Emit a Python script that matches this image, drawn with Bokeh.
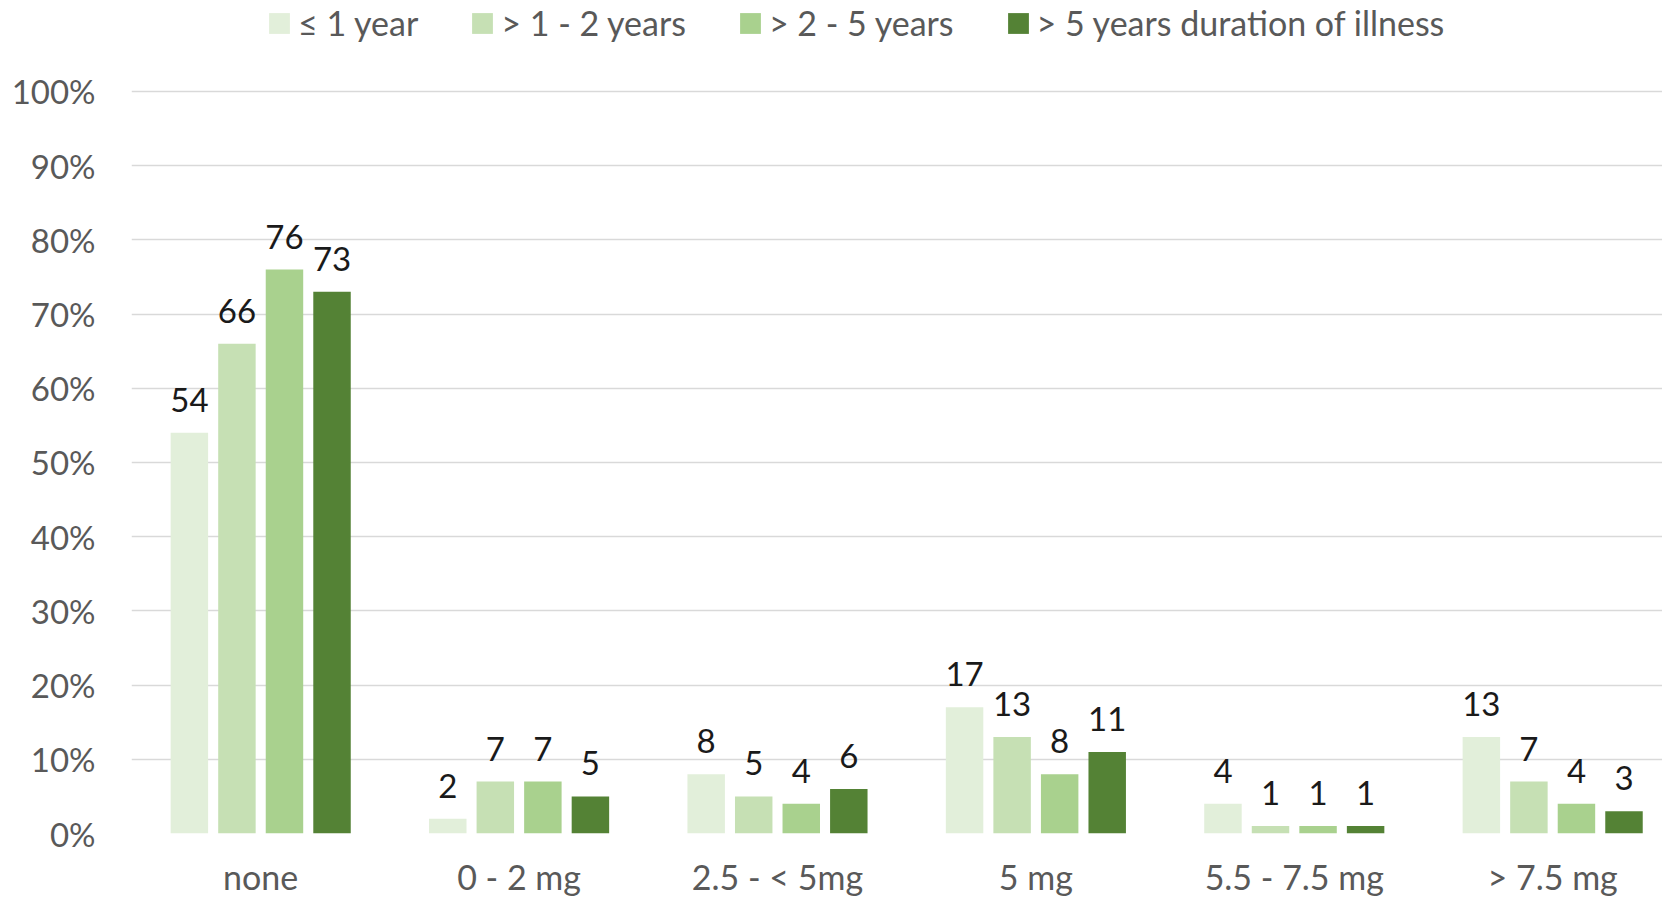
from bokeh.plotting import figure
from bokeh.models import ColumnDataSource, Range1d, Legend, LegendItem, FixedTicker
from bokeh.transform import dodge
from bokeh.core.properties import value
from bokeh.embed import file_html
from bokeh.resources import INLINE

categories = ["none", "0 - 2 mg", "2.5 - < 5mg", "5 mg", "5.5 - 7.5 mg", "> 7.5 mg"]
series_names = ["\u2264 1 year", "> 1 - 2 years", "> 2 - 5 years", "> 5 years duration of illness"]
le1 = [54, 2, 8, 17, 4, 13]
y1_2 = [66, 7, 5, 13, 1, 7]
y2_5 = [76, 7, 4, 8, 1, 4]
gt5 = [73, 5, 6, 11, 1, 3]
y_ticks = [0, 10, 20, 30, 40, 50, 60, 70, 80, 90, 100]

colors = ["#E2EFDA", "#C6E0B4", "#A9D18E", "#548235"]
series = [le1, y1_2, y2_5, gt5]
offsets = [-0.276, -0.092, 0.092, 0.276]
FONT = "Lato"

cat_pos = list(range(len(categories)))
src = ColumnDataSource(dict(
    pos=cat_pos,
    s0=le1, s1=y1_2, s2=y2_5, s3=gt5,
    t0=[str(v) for v in le1], t1=[str(v) for v in y1_2],
    t2=[str(v) for v in y2_5], t3=[str(v) for v in gt5],
))

# the original chart's plot area runs past the right edge of the picture
p = figure(x_range=Range1d(-0.5, 5.425), y_range=Range1d(0, 112.26),
           width=1662, height=901, output_backend="svg", toolbar_location=None,
           min_border_left=131, min_border_right=0, min_border_top=0, min_border_bottom=68)
p.outline_line_color = None
p.background_fill_color = "white"
p.border_fill_color = "white"

renderers = []
for i in range(4):
    r = p.vbar(x=dodge("pos", offsets[i]), top="s%d" % i, width=0.145,
               source=src, fill_color=colors[i], line_color=None)
    renderers.append(r)
    p.text(x=dodge("pos", offsets[i]), y="s%d" % i, text="t%d" % i, source=src,
           text_align="center", text_baseline="alphabetic", y_offset=-33,
           text_font=value(FONT), text_font_size="33px", text_color="#1a1a1a")

p.xgrid.grid_line_color = None
p.ygrid.grid_line_color = "#D9D9D9"
p.ygrid.grid_line_width = 1.5
p.yaxis.ticker = FixedTicker(ticks=y_ticks)
p.yaxis.major_label_overrides = {t: "%d%%" % t for t in y_ticks}
p.xaxis.ticker = FixedTicker(ticks=cat_pos)
p.xaxis.major_label_overrides = {i: c for i, c in zip(cat_pos, categories)}

for ax in (p.xaxis, p.yaxis):
    ax.axis_line_color = None
    ax.major_tick_line_color = None
    ax.minor_tick_line_color = None
    ax.major_tick_out = 0
    ax.major_tick_in = 0
    ax.minor_tick_out = 0
    ax.major_label_text_font = FONT
    ax.major_label_text_font_size = "33px"
    ax.major_label_text_color = "#595959"
p.xaxis.major_label_text_font_size = "34px"
p.yaxis.major_label_standoff = 36
p.xaxis.major_label_standoff = 22

legend = Legend(items=[LegendItem(label=series_names[i], renderers=[renderers[i]]) for i in range(4)],
                orientation="horizontal", location=(135, 790),
                glyph_width=26, glyph_height=26, label_standoff=6, spacing=51,
                padding=0, margin=0, border_line_color=None, background_fill_alpha=0,
                label_text_font=FONT, label_text_font_size="34px", label_text_color="#595959")
p.add_layout(legend, "center")

open("out.html", "w").write(file_html(p, INLINE))
